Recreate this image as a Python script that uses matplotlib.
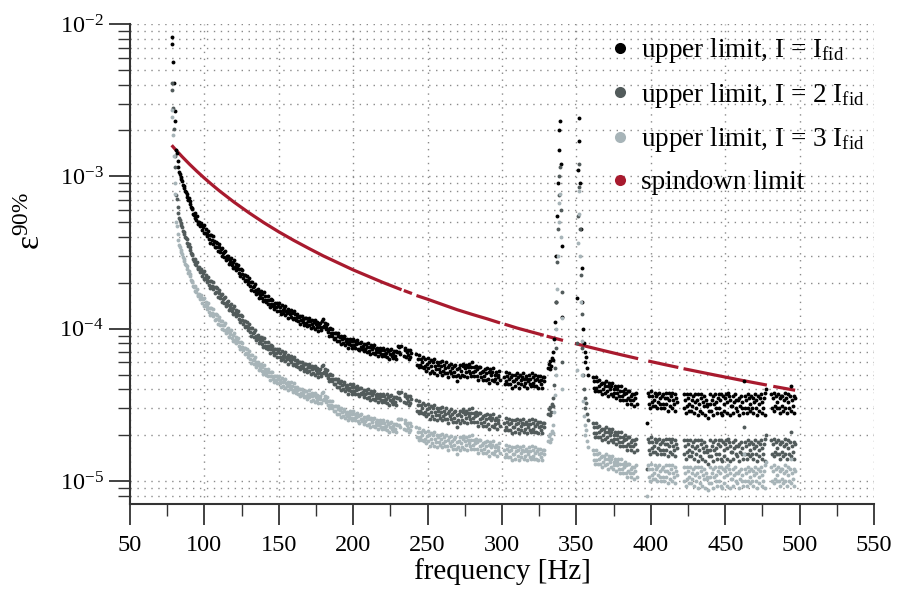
import numpy as np
import matplotlib
matplotlib.use("Agg")
import matplotlib.pyplot as plt
from matplotlib.lines import Line2D
from matplotlib.ticker import MultipleLocator, LogLocator, NullFormatter

plt.rcParams.update({
    "font.family": ["Liberation Serif", "DejaVu Serif"],
    "mathtext.fontset": "custom",
    "mathtext.rm": "Liberation Serif",
    "mathtext.it": "Liberation Serif:italic",
    "mathtext.bf": "Liberation Serif:bold",
    "mathtext.default": "regular",
})

_ = None  # no data (gap)

# ---- data -------------------------------------------------------------
# frequency grid of the upper limits [Hz]
freq_start = 78.0
freq_step = 0.5

# epsilon upper limit for I = I_fid, in units of 1e-6 (one row = 10 Hz)
ul_fid_e6 = [
    8200, 7400, 5600, 4100, 2700, 2300, 1500, 1420, 1260, 1150, 1060, 1030, 990, 960, 930, 880, 860, 840, 800, 790,
    770, 735, 700, 720, 660, 690, 630, 610, 615, 570, 560, 575, 530, 520, 545, 500, 490, 505, 470, 480,
    496, 445, 467, 423, 477, 427, 448, 406, 420, 439, 388, 412, 367, 409, 380, 403, 362, 374, 343, 373,
    346, 367, 324, 344, 359, 319, 335, 300, 338, 315, 296, 318, 325, 281, 299, 285, 302, 264, 288, 275,
    292, 261, 274, 249, 281, 253, 265, 241, 250, 262, 232, 247, 221, 246, 227, 241, 216, 224, 206, 224,
    208, 220, 195, 206, 215, 191, 201, 179, 202, 188, 177, 191, 195, 169, 180, 172, 182, 160, 174, 166,
    177, 159, 168, 152, 173, 155, 164, 149, 155, 163, 146, 155, 139, 156, 146, 155, 140, 146, 134, 147,
    138, 147, 131, 140, 147, 131, 139, 125, 142, 133, 126, 137, 140, 122, 131, 126, 134, 118, 130, 124,
    133, 120, 126, 115, 131, 118, 124, 114, 119, 125, 112, 120, 108, 121, 114, 121, 110, 115, 106, 117,
    109, 117, 104, 112, 118, 106, 112, 101, 114, 108, 102, 110, 114, 99, 107, 102, 110, 97, 107, 103,
    109, 98, 113, 102, 116, 104, 109, 99, 102, 107, 95, 100, 90, 101, 94, 100, 90, 93, 86, 93,
    87, 93, 83, 89, 93, 83, 88, 79, 90, 85, 80, 87, 89, 78, 83, 80, 85, 75, 82, 79,
    86, 78, 83, 75, 86, 78, 83, 75, 79, 84, 74, 80, 72, 81, 76, 82, 74, 77, 71, 79,
    74, 79, 70, 76, 80, 71, 76, 68, 78, 73, 69, 76, 78, 68, 73, 70, 75, 66, 73, 70,
    75, 68, 72, 66, 75, 68, 72, 66, 69, 74, 65, 71, 63, 72, 68, 73, 66, 69, 64, 71,
    66, 71, 63, 70, 77, 70, 76, 68, 77, _, _, _, 66, 72, 75, 65, 70, 67, 72, 63,
    72, 65, 69, _, _, _, _, _, _, 68, 58, 63, 56, 67, 58, 63, 56, 60, 65, 55,
    57, 63, 53, 59, 64, 55, 60, 51, 62, 57, 53, 60, 63, 51, 57, 54, 60, 50, 58, 54,
    60, 52, 57, 50, 61, 53, 58, 51, 55, 60, 51, 56, 48, 58, 53, 59, 51, 55, 49, 57,
    52, 58, 49, 54, 45, 50, 55, 48, 58, 53, 50, 57, 59, 49, 55, 52, 58, 48, 56, 53,
    59, 51, 56, 49, 60, 52, 56, 49, 53, 57, 49, 54, 46, 56, 51, 56, 48, 52, 46, 53,
    49, 54, 46, 51, 55, 47, 52, 44, 54, 50, 46, 52, 55, 45, 50, 47, 52, 44, 50, 48,
    53, 46, _, _, _, _, _, 48, 43, 52, 45, 49, 43, 47, 51, 43, 48, 41, 50, 45,
    45, 50, 42, 47, 51, 44, 48, 41, 50, 46, 43, 48, 51, 42, 47, 44, 49, 41, 47, 45,
    50, 43, 47, 42, 51, 44, 48, 42, 46, 50, 42, 47, 41, 49, 45, 49, 43, 46, 41, 48,
    45, 48, _, _, _, _, 55, 59, 54, 61, 57, 64, 62, 70, 85, 110, 150, 300, 550, 900,
    1500, 2000, 2300, 1200, 350, 120, _, _, _, _, _, _, _, _, _, _, _, _, _, _,
    _, _, _, _, _, 160, 1100, 2400, 1700, 900, 450, 250, 150, 100, 80, 70, 60, 65, 55, 50,
    _, _, _, _, _, _, 48, 41, 45, 39, 48, 41, 45, 39, 42, 46, 39, 43, 37, 44,
    40, 44, 38, 42, 45, 39, 42, 36, 44, 40, 37, 42, 44, 36, 40, 38, 42, 35, 40, 38,
    42, 36, 39, 34, 42, 36, 39, 34, 37, 40, 34, 38, 32, 39, 35, 39, 34, 36, 32, 37,
    34, 37, 31, 35, 38, 32, _, _, _, _, _, _, _, _, _, _, _, _, _, 24,
    38, 32, 36, 30, 39, 33, 36, 31, 34, 38, 31, 36, 30, 37, 33, 38, 32, 35, 30, 36,
    32, 37, 30, 35, 38, 32, 35, 29, 38, 34, 31, 36, 38, 30, 34, 32, 37, 29, 35, 33,
    _, _, _, _, _, _, _, _, 37, 30, 34, 28, 37, 31, 35, 29, 32, 37, 29, 34,
    31, 36, 28, 33, 37, 30, 34, 27, 37, 32, 29, 35, 37, 28, 33, 31, 36, 27, 34, 32,
    31, 26, 29, 32, 37, 29, 34, 27, 36, 32, 37, 30, 33, 28, 35, 37, 30, 34, 28, 37,
    27, 36, 32, 29, 35, 37, 28, 33, 38, 36, 27, 34, 31, 31, 36, 28, 33, 37, 30, 34,
    29, 34, 27, 35, 31, 36, 30, 33, 28, 45, 36, 30, 34, 28, 37, 30, 35, 29, 32, 36,
    30, 35, 28, 33, 37, 30, 34, 27, 36, 32, 29, 35, 37, 28, 33, 30, 35, 27, 38, 40,
    _, _, _, _, _, _, 37, 30, 35, 29, 38, 31, 36, 30, 33, 37, 30, 35, 28, 36,
    31, 36, 29, 34, 38, 30, 35, 28, 37, 33, 30, 36, 42, 29, 34, 31, 36, 28, 35,
]

# moments of inertia of the three upper-limit series (in units of I_fid)
inertia_factors = [1, 2, 3]
series_labels = [
    r"upper limit, I = I$_{\rm fid}$",
    r"upper limit, I = 2 I$_{\rm fid}$",
    r"upper limit, I = 3 I$_{\rm fid}$",
]
series_colors = ["#000000", "#525b5b", "#a7b4b8"]

# spindown limit, epsilon in units of 1e-5 (None = gap in the curve)
sd_freq = [78, 80, 85, 90, 95, 100, 105, 110, 120, 130, 140, 150, 160, 170, 180, 190,
           200, 210, 220, 232.5, 233, 234, 239.5, 241, 242.5, 250, 260, 270, 280, 290,
           298.7, 300, 301.7, 310, 320, 328, 329, 330, 341, 345, 349, 360, 370, 380,
           391.5, 395, 398.3, 410, 418.5, 420, 422, 440, 460, 478, 480, 482.3, 497]
sd_val_e5 = [160, 152, 134.7, 120.1, 107.8, 97.3, 88.3, 80.4, 67.6, 57.6, 49.6, 43.2, 38.0, 33.7, 30.0, 27.0,
             24.3, 22.1, 20.1, 18.0, _, 17.8, 17.0, _, 16.5, 15.6, 14.4, 13.3, 12.4, 11.6,
             10.9, _, 10.7, 10.1, 9.5, 9.05, _, 8.93, 8.37, _, 7.99, 7.51, 7.11, 6.74,
             6.35, _, 6.13, 5.79, 5.56, _, 5.46, 5.03, 4.60, 4.26, _, 4.18, 3.94]
sd_label = "spindown limit"
sd_color = "#a81a2e"

x_ticks_major = 50
x_ticks_minor = 25

# ---- figure -------------------------------------------------------------
W, H = 897, 592
fig = plt.figure(figsize=(W / 100, H / 100), dpi=100)
ax = fig.add_axes([130 / W, 88 / H, 744 / W, 480 / H])

ul = np.array(ul_fid_e6, dtype=float) * 1e-6
freq = freq_start + freq_step * np.arange(ul.size)

sd = np.array(sd_val_e5, dtype=float) * 1e-5
ax.plot(np.array(sd_freq, dtype=float), sd, color=sd_color, lw=2.3,
        solid_capstyle="butt", zorder=2.5)

for k, c in zip(inertia_factors, series_colors):
    ax.plot(freq, ul / k, linestyle="none", marker="o", ms=2.8, mfc=c,
            mec="none", zorder=3)

ax.set_yscale("log")
ax.set_xlim(50, 550)
ax.set_ylim(7.06e-6, 1e-2)

ax.xaxis.set_major_locator(MultipleLocator(x_ticks_major))
ax.xaxis.set_minor_locator(MultipleLocator(x_ticks_minor))
ax.yaxis.set_major_locator(LogLocator(base=10, numticks=10))
ax.yaxis.set_minor_locator(LogLocator(base=10, subs=np.arange(2, 10), numticks=20))
ax.yaxis.set_minor_formatter(NullFormatter())

tick_col = "#333333"
ax.tick_params(which="major", direction="out", length=15, width=1.3,
               labelsize=17.5, color=tick_col)
ax.tick_params(which="minor", direction="out", length=8.5, width=1.0, color=tick_col)
ax.tick_params(axis="x", which="major", pad=7)
ax.tick_params(axis="y", which="major", pad=4)

for s in ("top", "right"):
    ax.spines[s].set_visible(False)
for s in ("left", "bottom"):
    ax.spines[s].set_linewidth(1.5)
    ax.spines[s].set_color(tick_col)

grid_kw = dict(ls=(0, (1, 4)), lw=1.0, color="#8a8a8a")
ax.grid(which="major", axis="both", **grid_kw)
ax.grid(which="minor", axis="y", **grid_kw)
ax.set_axisbelow(True)

ax.set_xlabel("frequency [Hz]", fontsize=21)
ax.xaxis.set_label_coords(0.5, -0.112)
ax.set_ylabel(r"ε$^{90\%}$", fontsize=24)
ax.yaxis.set_label_coords(-0.112, 0.59)

handles = [Line2D([], [], ls="none", marker="o", ms=8, mfc=c, mec="none")
           for c in series_colors]
handles.append(Line2D([], [], ls="none", marker="o", ms=8, mfc=sd_color, mec="none"))
ax.legend(handles, series_labels + [sd_label], loc="upper right",
          bbox_to_anchor=(0.988, 0.975), frameon=False, fontsize=19.5,
          handletextpad=0.3, labelspacing=0.58, handlelength=1.0,
          borderaxespad=0, borderpad=0)

fig.savefig("out.png", dpi=100)
